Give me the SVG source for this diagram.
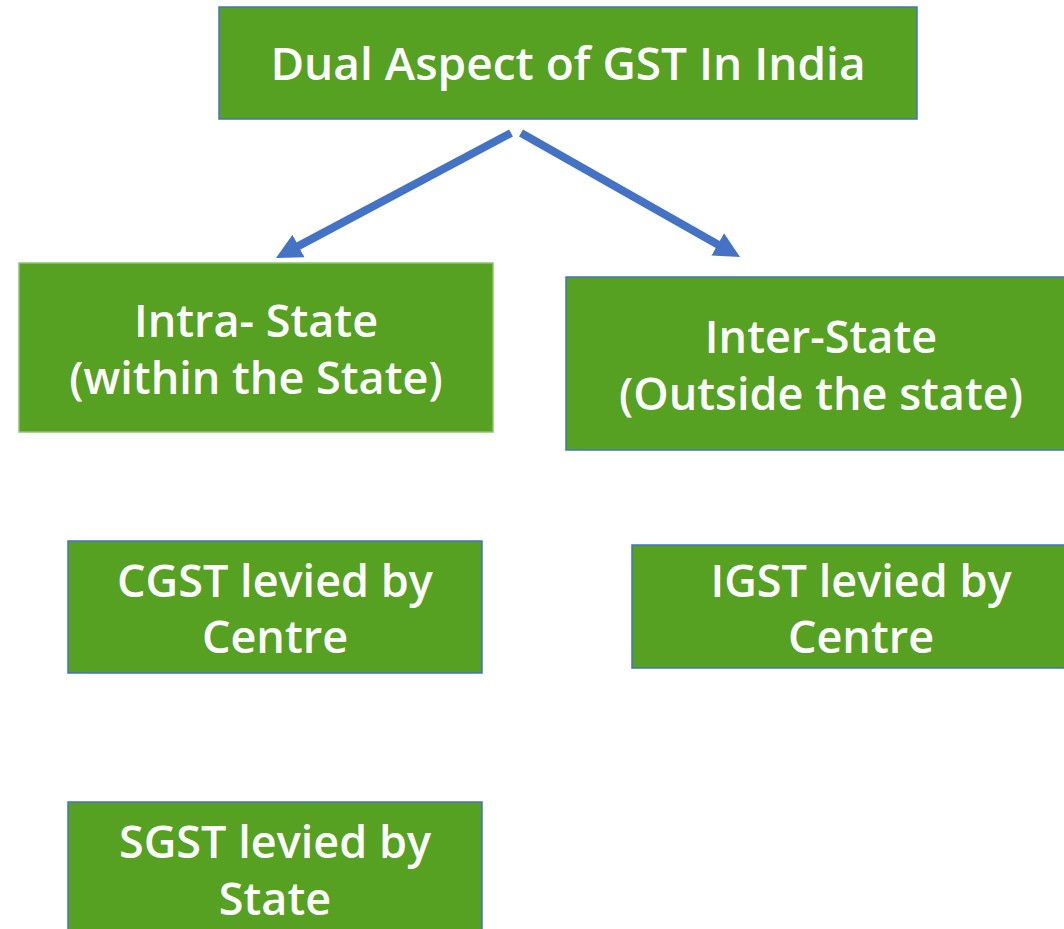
<svg xmlns="http://www.w3.org/2000/svg" width="1064" height="929" viewBox="0 0 1064 929">
<defs>
<style>
.box{fill:#56A022;stroke:#4472C4;stroke-width:1.5}
.boxg{fill:#56A022;stroke:#8CC56A;stroke-width:1.5}
.t{font-family:"Open Sans","Noto Sans",sans-serif;font-size:45px;font-weight:600;fill:#FFFFFF;text-anchor:middle}
.tt{font-size:46px}
.c{stroke:#4472C4;stroke-width:8;fill:none}
</style>
<marker id="ah" viewBox="0 0 10 10" refX="2" refY="5" markerWidth="3.2" markerHeight="3.8" orient="auto" markerUnits="strokeWidth">
<path d="M0,0 L10,5 L0,10 Z" fill="#4472C4"/>
</marker>
</defs>
<rect width="1064" height="929" fill="#FFFFFF"/>
<g id="n-top">
<rect class="box" x="219" y="7" width="698" height="112"/>
<text class="t tt" x="568" y="80">Dual Aspect of GST In India</text>
</g>
<g id="n-intra">
<rect class="boxg" x="19" y="263" width="474" height="169"/>
<text class="t" x="256" y="337">Intra- State</text>
<text class="t" x="256" y="394">(within the State)</text>
</g>
<g id="n-inter">
<rect class="box" x="566" y="277" width="510" height="173"/>
<text class="t" x="821" y="353">Inter-State</text>
<text class="t" x="821" y="410">(Outside the state)</text>
</g>
<g id="n-cgst">
<rect class="box" x="68" y="541" width="414" height="132"/>
<text class="t" x="275" y="597">CGST levied by</text>
<text class="t" x="275" y="653">Centre</text>
</g>
<g id="n-igst">
<rect class="box" x="632" y="545" width="444" height="123"/>
<text class="t" x="861" y="597">IGST levied by</text>
<text class="t" x="861" y="653">Centre</text>
</g>
<g id="n-sgst">
<rect class="box" x="68" y="802" width="414" height="140"/>
<text class="t" x="275" y="858">SGST levied by</text>
<text class="t" x="275" y="915">State</text>
</g>
<g id="connectors">
<line class="c" x1="511" y1="133" x2="294" y2="248.4" marker-end="url(#ah)"/>
<line class="c" x1="521" y1="133" x2="722.2" y2="246.9" marker-end="url(#ah)"/>
</g>
</svg>
